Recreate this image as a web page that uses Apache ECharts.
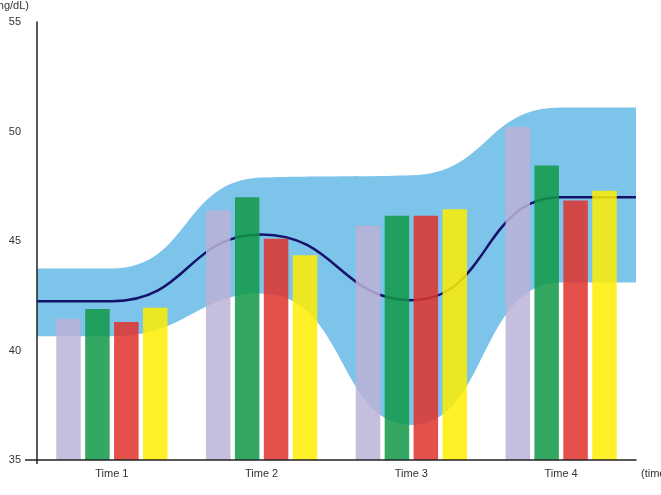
<!DOCTYPE html>
<html>
<head>
<meta charset="utf-8">
<style>html,body{margin:0;padding:0;background:#fff;}#c{width:661px;height:495px;}</style>
<script src="https://cdn.jsdelivr.net/npm/echarts@6/dist/echarts.min.js"></script>
</head>
<body>
<div id="c"></div>
<script>
// ---- data ----
var categories = ['Time 1', 'Time 2', 'Time 3', 'Time 4'];
var yTicks = [35, 40, 45, 50, 55];
var seriesLavender = [41.45, 46.4, 45.7, 50.2];
var seriesGreen = [41.9, 47.0, 46.15, 48.45];
var seriesRed = [41.3, 45.1, 46.15, 46.85];
var seriesYellow = [41.95, 44.35, 46.45, 47.3];
// curve samples along the time axis (category index; -0.5 / 3.5 = plot edges)
var curveX = [-0.5, 0, 1, 2, 3, 3.5];
var meanLine = [42.25, 42.25, 45.3, 42.3, 47.0, 47.0];
var bandUpper = [43.75, 43.75, 47.9, 48.0, 51.1, 51.1];
var bandLower = [40.65, 40.65, 42.6, 36.6, 43.1, 43.1];

var font = 'Liberation Sans, Arial, sans-serif';
function pairs(xs, ys) { return xs.map(function (x, i) { return [x, ys[i]]; }); }

var chart = echarts.init(document.getElementById('c'), null, {renderer: 'canvas'});
function bar(name, data, color) {
  return {
    name: name, type: 'bar', xAxisIndex: 0, yAxisIndex: 0, data: data,
    barWidth: 24.5, barGap: '18%', z: 3,
    itemStyle: {color: color, opacity: 0.85}
  };
}
var option = {
  animation: false,
  backgroundColor: '#ffffff',
  grid: {left: 37, right: 25, top: 22, bottom: 35, containLabel: false, outerBoundsMode: 'none'},
  xAxis: [{
    type: 'category', data: categories, boundaryGap: true, z: 5,
    name: '(time)', nameLocation: 'end', nameGap: 5,
    nameTextStyle: {fontFamily: font, fontSize: 11, color: '#333', verticalAlign: 'top', align: 'left', padding: [8, 0, 0, 0]},
    axisLine: {onZero: false, lineStyle: {color: '#222', width: 1.5}},
    axisTick: {show: false},
    axisLabel: {fontFamily: font, fontSize: 11, color: '#333', margin: 8}
  }, {
    type: 'value', min: -0.5, max: 3.5, show: false,
    axisLine: {onZero: false}
  }],
  yAxis: [{
    type: 'value', min: yTicks[0], max: yTicks[yTicks.length - 1], interval: 5, z: 5,
    name: '(mg/dL)', nameLocation: 'end', nameGap: 16,
    nameTextStyle: {fontFamily: font, fontSize: 11, color: '#333', align: 'right', verticalAlign: 'middle', padding: [0, 8, 0, 0]},
    axisLine: {show: true, onZero: false, lineStyle: {color: '#222', width: 1.5}},
    axisTick: {show: false},
    splitLine: {show: false},
    axisLabel: {fontFamily: font, fontSize: 11, color: '#333', margin: 16}
  }],
  series: [
    {
      name: 'upper', type: 'line', xAxisIndex: 1, yAxisIndex: 0,
      data: pairs(curveX, bandUpper), smooth: true, symbol: 'none', z: 1,
      lineStyle: {width: 0, opacity: 0}, areaStyle: {color: '#7dc4ea', opacity: 1, origin: 'start'}, silent: true
    },
    {
      name: 'lower', type: 'line', xAxisIndex: 1, yAxisIndex: 0,
      data: pairs(curveX, bandLower), smooth: true, symbol: 'none', z: 1,
      lineStyle: {width: 0, opacity: 0}, areaStyle: {color: '#ffffff', opacity: 1, origin: 'start'}, silent: true
    },
    {
      name: 'mean', type: 'line', xAxisIndex: 1, yAxisIndex: 0,
      data: pairs(curveX, meanLine), smooth: true, symbol: 'none', z: 2,
      lineStyle: {color: '#15126b', width: 2.5}
    },
    bar('A', seriesLavender, '#bbb3d6'),
    bar('B', seriesGreen, '#109947'),
    bar('C', seriesRed, '#e1312a'),
    bar('D', seriesYellow, '#ffed02')
  ]
};
chart.setOption(option);
// small axis overhangs where the two axis lines cross
var p0 = chart.convertToPixel({xAxisIndex: 1, yAxisIndex: 0}, [-0.5, yTicks[0]]);
chart.setOption({
  graphic: [
    {type: 'line', shape: {x1: p0[0] - 12, y1: p0[1], x2: p0[0], y2: p0[1]}, style: {stroke: '#222', lineWidth: 1.5}, z: 10},
    {type: 'line', shape: {x1: p0[0], y1: p0[1], x2: p0[0], y2: p0[1] + 4}, style: {stroke: '#222', lineWidth: 1.5}, z: 10}
  ]
});
</script>
</body>
</html>
